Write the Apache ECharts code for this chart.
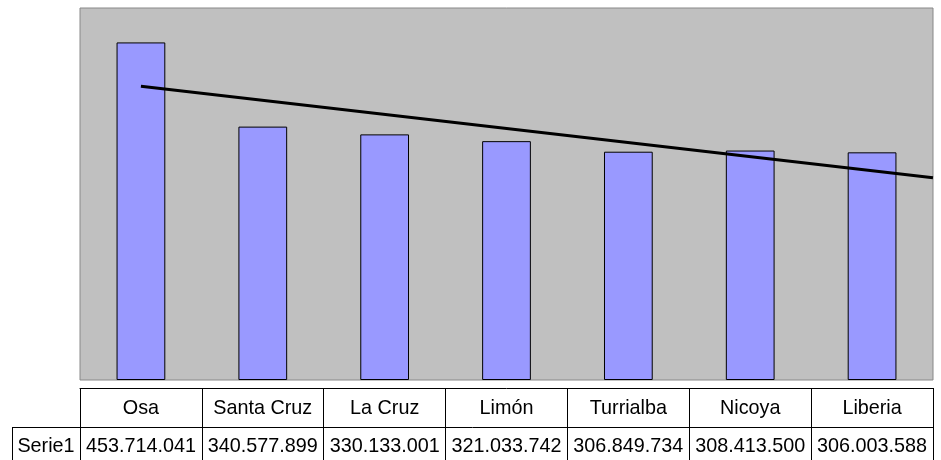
<!DOCTYPE html>
<html><head><meta charset="utf-8">
<script src="https://cdn.jsdelivr.net/npm/echarts@6/dist/echarts.min.js"></script>
<style>html,body{margin:0;padding:0;background:#fff}#c{width:941px;height:460px}</style>
</head><body><div id="c"></div>
<script>
const categories = ['Osa', 'Santa Cruz', 'La Cruz', 'Limón', 'Turrialba', 'Nicoya', 'Liberia'];
const values = [453714041, 340577899, 330133001, 321033742, 306849734, 308413500, 306003588];
const seriesName = 'Serie1';
const yMin = 0, yMax = 500000000;

function fmt(v) { return String(v).replace(/\B(?=(\d{3})+(?!\d))/g, '.'); }

// Linear least-squares trendline over category positions 1..n (as in the original chart)
const n = values.length;
let sx = 0, sy = 0, sxx = 0, sxy = 0;
values.forEach((v, i) => { const x = i + 1; sx += x; sy += v; sxx += x * x; sxy += x * v; });
const slope = (n * sxy - sx * sy) / (n * sxx - sx * sx);
const icpt = (sy - slope * sx) / n;
const trend = [1, n + 0.5].map(x => [x, icpt + slope * x]);

const FONT = 'Liberation Sans, Arial, sans-serif';
const chart = echarts.init(document.getElementById('c'), null, { renderer: 'canvas' });
chart.setOption({
  animation: false,
  grid: [
    { left: 80, top: 8, right: 8, bottom: 80, show: true, backgroundColor: '#c0c0c0', borderColor: '#888888', borderWidth: 1 },
    { left: 80, top: 387, right: 8, height: 1, show: false }
  ],
  xAxis: [
    { type: 'category', data: categories, gridIndex: 0, show: false },
    { type: 'value', min: 0.5, max: n + 0.5, gridIndex: 0, show: false },
    {
      type: 'category', data: categories, gridIndex: 1, position: 'bottom',
      axisLine: { show: true, lineStyle: { color: '#000', width: 1 } },
      axisTick: { show: true, interval: 0, length: 80, lineStyle: { color: '#000', width: 1 } },
      axisLabel: {
        interval: 0, margin: 2,
        formatter: (v, i) => '{h|' + v + '}\n{v|' + fmt(values[i]) + '}',
        rich: {
          h: { fontSize: 19.8, lineHeight: 38, fontFamily: FONT, color: '#000' },
          v: { fontSize: 19.8, lineHeight: 38, fontFamily: FONT, color: '#000' }
        }
      },
      splitLine: { show: false }
    }
  ],
  yAxis: [
    { type: 'value', min: yMin, max: yMax, gridIndex: 0, show: false },
    { type: 'value', gridIndex: 1, show: false }
  ],
  graphic: [
    { type: 'line', shape: { x1: 12, y1: 427.5, x2: 933, y2: 427.5 }, style: { stroke: '#000', lineWidth: 1 } },
    { type: 'line', shape: { x1: 12.5, y1: 427, x2: 12.5, y2: 470 }, style: { stroke: '#000', lineWidth: 1 } },
    { type: 'text', x: 46, y: 447, style: { text: seriesName, font: '19.8px ' + FONT, fill: '#000', align: 'center', verticalAlign: 'middle' } }
  ],
  series: [
    {
      name: seriesName, type: 'bar', data: values, barWidth: '40%', xAxisIndex: 0, yAxisIndex: 0,
      itemStyle: { color: '#9999ff', borderColor: '#000', borderWidth: 1 }
    },
    {
      name: 'trend', type: 'line', xAxisIndex: 1, yAxisIndex: 0, data: trend, symbol: 'none', z: 5,
      lineStyle: { color: '#000', width: 3 }
    }
  ]
});
</script></body></html>
